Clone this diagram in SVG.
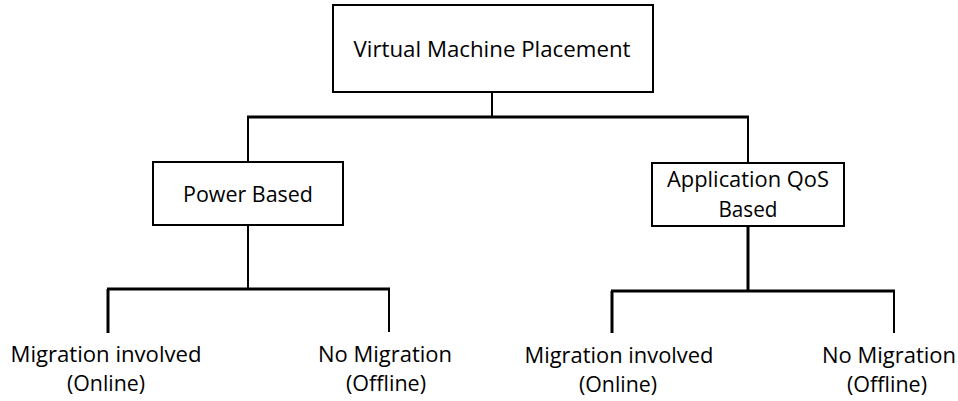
<svg xmlns="http://www.w3.org/2000/svg" width="958" height="401" viewBox="0 0 958 401">
<style>
.box{fill:#fff;stroke:#000;stroke-width:2}
.t{font-family:"Open Sans","Liberation Sans",sans-serif;font-size:21px;fill:#000;text-anchor:middle}
.thin{stroke:#000;stroke-width:2;fill:none}
.thick{stroke:#000;stroke-width:3;fill:none}
</style>
<rect width="958" height="401" fill="#fff"/>
<g id="connectors">
<line class="thin" x1="492" y1="92" x2="492" y2="117"/>
<line class="thick" x1="247" y1="117" x2="749" y2="117"/>
<line class="thin" x1="248" y1="117" x2="248" y2="162"/>
<line class="thin" x1="748" y1="117" x2="748" y2="163"/>
<line class="thin" x1="248" y1="225" x2="248" y2="289"/>
<line class="thick" x1="107" y1="289" x2="390" y2="289"/>
<line class="thick" x1="108" y1="289" x2="108" y2="333"/>
<line class="thin" x1="389" y1="289" x2="389" y2="332"/>
<line class="thick" x1="748" y1="226" x2="748" y2="291"/>
<line class="thick" x1="611" y1="291" x2="895" y2="291"/>
<line class="thick" x1="612" y1="291" x2="612" y2="333"/>
<line class="thin" x1="894" y1="291" x2="894" y2="333"/>
</g>
<g id="vmp">
<rect class="box" x="333" y="5" width="320" height="87"/>
<text class="t" x="492" y="57" textLength="277" lengthAdjust="spacingAndGlyphs">Virtual Machine Placement</text>
</g>
<g id="power">
<rect class="box" x="153" y="162" width="190" height="63"/>
<text class="t" x="248" y="202" textLength="130" lengthAdjust="spacingAndGlyphs">Power Based</text>
</g>
<g id="qos">
<rect class="box" x="652" y="163" width="192" height="63"/>
<text class="t" x="748" y="187" textLength="162" lengthAdjust="spacingAndGlyphs">Application QoS</text>
<text class="t" x="748" y="217" textLength="59" lengthAdjust="spacingAndGlyphs">Based</text>
</g>
<g id="pb-online">
<text class="t" x="106" y="362" textLength="191" lengthAdjust="spacingAndGlyphs">Migration involved</text>
<text class="t" x="106" y="391" textLength="78" lengthAdjust="spacingAndGlyphs">(Online)</text>
</g>
<g id="pb-offline">
<text class="t" x="385" y="362" textLength="134" lengthAdjust="spacingAndGlyphs">No Migration</text>
<text class="t" x="386" y="391" textLength="80" lengthAdjust="spacingAndGlyphs">(Offline)</text>
</g>
<g id="qos-online">
<text class="t" x="619" y="363" textLength="189" lengthAdjust="spacingAndGlyphs">Migration involved</text>
<text class="t" x="618" y="392" textLength="78" lengthAdjust="spacingAndGlyphs">(Online)</text>
</g>
<g id="qos-offline">
<text class="t" x="889" y="363" textLength="134" lengthAdjust="spacingAndGlyphs">No Migration</text>
<text class="t" x="887" y="392" textLength="80" lengthAdjust="spacingAndGlyphs">(Offline)</text>
</g>
</svg>
